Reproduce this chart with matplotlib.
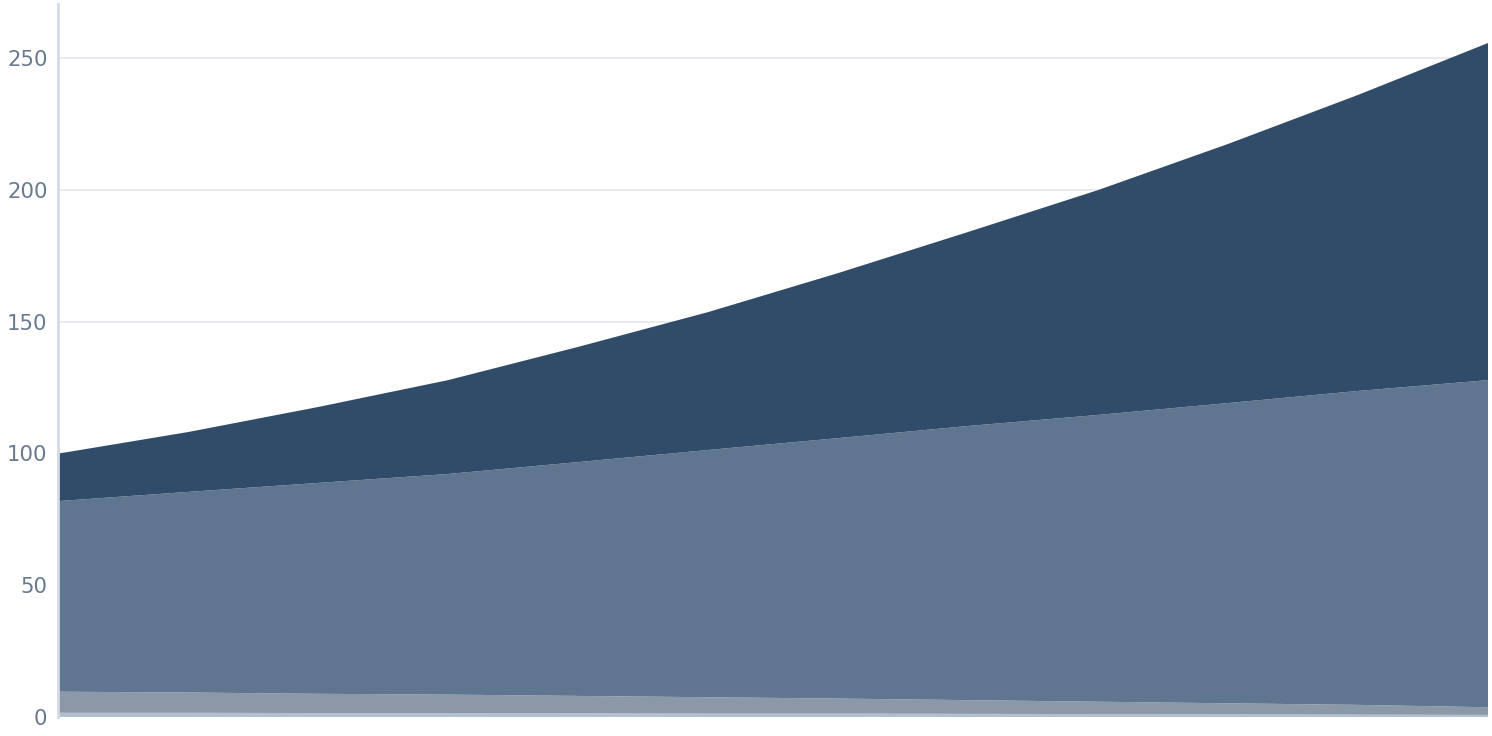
import matplotlib
matplotlib.use("Agg")
import matplotlib.pyplot as plt
import numpy as np

# values (stacked, bottom to top)
x = np.arange(12)
layer_base = [1.6, 1.6, 1.5, 1.5, 1.4, 1.3, 1.3, 1.2, 1.1, 1.0, 0.9, 0.8]
layer_low = [8.0, 7.7, 7.3, 7.0, 6.6, 6.2, 5.7, 5.2, 4.7, 4.2, 3.7, 2.9]
layer_mid = [72.3, 76.1, 80.0, 83.7, 88.7, 93.8, 98.8, 104.0, 108.8, 113.9, 119.1, 124.1]
layer_top = [18.0, 22.7, 28.8, 35.6, 43.7, 52.3, 62.6, 73.6, 85.3, 98.3, 112.3, 127.9]

colors = ["#b3bfcf", "#8a98a8", "#5f7590", "#314c69"]
yticks = [0, 50, 100, 150, 200, 250]

fig = plt.figure(figsize=(14.92, 7.36), dpi=100)
ax = fig.add_axes([58 / 1492, 19 / 736, 1430 / 1492, 713 / 736])

ax.stackplot(x, layer_base, layer_low, layer_mid, layer_top,
             colors=colors, linewidth=0)

ax.set_xlim(x[0], x[-1])
ax.set_ylim(0, 270.5)
ax.set_yticks(yticks)
ax.set_xticks([])
ax.grid(axis="y", color="#e6e9ee", lw=1.3)
ax.set_axisbelow(True)

for side in ["top", "right", "bottom"]:
    ax.spines[side].set_visible(False)
ax.spines["left"].set_color("#d3dae4")
ax.spines["left"].set_linewidth(2)
ax.tick_params(axis="y", length=0, pad=7.5, labelsize=15.3, labelcolor="#6b7a90")

fig.savefig("out.png", dpi=100)
